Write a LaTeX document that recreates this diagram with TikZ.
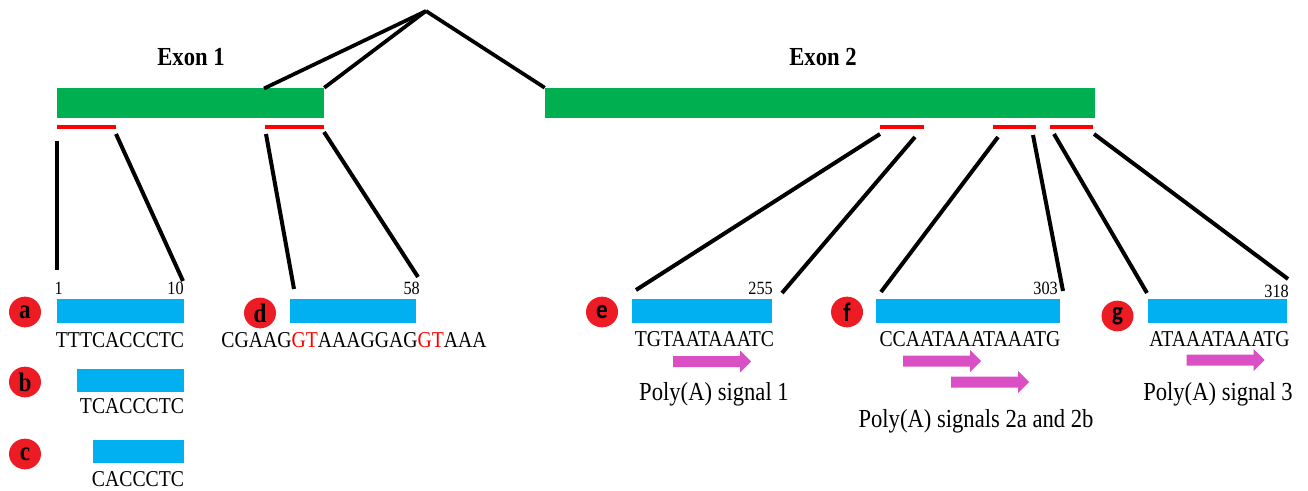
\documentclass[tikz,border=0pt]{standalone}
\usepackage{fontspec}
\setmainfont{Liberation Serif}[FakeStretch=0.87]
\newfontfamily\sansb{Carlito}[FakeStretch=0.87]
\usetikzlibrary{fit,shapes.geometric}
\definecolor{exongreen}{RGB}{0,176,80}
\definecolor{barblue}{RGB}{0,176,240}
\definecolor{barred}{RGB}{255,0,0}
\definecolor{circred}{RGB}{237,28,36}
\definecolor{polymag}{RGB}{218,80,196}
\tikzset{
  exonbar/.style={fill=exongreen, inner sep=0pt, draw=none},
  redbar/.style={fill=barred, inner sep=0pt, draw=none},
  bluebar/.style={fill=barblue, inner sep=0pt, draw=none},
  link/.style={line width=3pt, black},
  intron/.style={line width=2.8pt, black},
  seq/.style={font=\fontsize{17}{20}\selectfont, anchor=base, inner sep=0pt},
  num/.style={font=\fontsize{14}{16}\selectfont, anchor=base east, inner sep=0pt},
  polytxt/.style={font=\fontsize{19.5}{22}\selectfont, anchor=base, inner sep=0pt},
  exontxt/.style={font=\bfseries\fontsize{19.5}{22}\selectfont, inner sep=0pt},
  tag/.style={ellipse, fill=circred, inner sep=0pt, minimum width=24pt, minimum height=23pt, font=\bfseries\fontsize{20}{22}\selectfont},
  sanstag/.style={tag, font=\sansb\bfseries\fontsize{20}{22}\selectfont},
  sigarrow/.pic={\fill[polymag] (-39,-5.5) -- (28,-5.5) -- (28,-11) -- (39,0) -- (28,11) -- (28,5.5) -- (-39,5.5) -- cycle;},
}
\begin{document}
\begin{tikzpicture}[x=0.75pt, y=-0.75pt]
\useasboundingbox (0,0) rectangle (1308,491);

% exons
\node[exonbar, fit={(57,88)(324,118)}] (ex1) {};
\node[exonbar, fit={(545,88)(1095,118)}] (ex2) {};
\node[exontxt] (ex1lbl) at (191,57) {Exon 1};
\node[exontxt] (ex2lbl) at (823,57) {Exon 2};

% intron
\coordinate (apex) at (426,11);
\draw[intron] (apex) -- (264,88.5);
\draw[intron] (apex) -- (ex1.north east);
\draw[intron] (apex) -- (ex2.north west);

% red bars
\node[redbar, fit={(57,125)(116,129)}] (ra) {};
\node[redbar, fit={(265,125)(324,129)}] (rd) {};
\node[redbar, fit={(880,125)(924,129)}] (re) {};
\node[redbar, fit={(993,125)(1036,129)}] (rf) {};
\node[redbar, fit={(1050,125)(1093,129)}] (rg) {};

% blue bars
\node[bluebar, fit={(57,299)(184,323)}] (ba) {};
\node[bluebar, fit={(77,369)(184,392)}] (bb) {};
\node[bluebar, fit={(93,440)(184,463)}] (bc) {};
\node[bluebar, fit={(290,299)(416,323)}] (bd) {};
\node[bluebar, fit={(632,299)(772,323)}] (be) {};
\node[bluebar, fit={(876,299)(1060,323)}] (bf) {};
\node[bluebar, fit={(1148,299)(1287,323)}] (bg) {};

% connector end points
\coordinate (a1t) at (57,141);   \coordinate (a1b) at (57,270);
\coordinate (a2t) at (116,134);  \coordinate (a2b) at (183,281);
\coordinate (d1t) at (266,134);  \coordinate (d1b) at (294,289);
\coordinate (d2t) at (324,132);  \coordinate (d2b) at (418,277);
\coordinate (e1t) at (880,134);  \coordinate (e1b) at (636,290);
\coordinate (e2t) at (915,137);  \coordinate (e2b) at (782,293);
\coordinate (f1t) at (998,137);  \coordinate (f1b) at (881,292);
\coordinate (f2t) at (1033,135); \coordinate (f2b) at (1063,291);
\coordinate (g1t) at (1054,134); \coordinate (g1b) at (1147,293);
\coordinate (g2t) at (1094,134); \coordinate (g2b) at (1288,279);
\draw[link] (a1t) -- (a1b);
\draw[link] (a2t) -- (a2b);
\draw[link] (d1t) -- (d1b);
\draw[link] (d2t) -- (d2b);
\draw[link] (e1t) -- (e1b);
\draw[link] (e2t) -- (e2b);
\draw[link] (f1t) -- (f1b);
\draw[link] (f2t) -- (f2b);
\draw[link] (g1t) -- (g1b);
\draw[link] (g2t) -- (g2b);

% numbers
\node[num] (n1) at (63,294.5) {1};
\node[num] (n10) at (184,294.5) {10};
\node[num] (n58) at (420,295) {58};
\node[num] (n255) at (773,294.5) {255};
\node[num] (n303) at (1058,294.5) {303};
\node[num] (n318) at (1289,297) {318};

% sequences
\node[seq] (sa) at (120,347) {TTTCACCCTC};
\node[seq] (sb) at (132,413) {TCACCCTC};
\node[seq] (sc) at (138,486) {CACCCTC};
\node[seq] (sd) at (354,347) {CGAAG\textcolor{barred}{GT}AAAGGAG\textcolor{barred}{GT}AAA};
\node[seq] (se) at (704.5,346) {TGTAATAAATC};
\node[seq] (sf) at (970,346) {CCAATAAATAAATG};
\node[seq] (sg) at (1219.5,346) {ATAAATAAATG};

% tags
\node[tag] (ta) at (25,312) {a};
\node[tag] (tb) at (25,382) {b};
\node[tag] (tc) at (25,454) {c};
\node[tag] (td) at (260,313) {d};
\node[sanstag] (te) at (602,312) {e};
\node[sanstag] (tf) at (847,312) {f};
\node[sanstag] (tg) at (1117.5,316) {g};

% poly(A) arrows
\pic (p1) at (712,361.5) {sigarrow};
\pic (p2a) at (942,361) {sigarrow};
\pic (p2b) at (990,382) {sigarrow};
\pic (p3) at (1225.5,360) {sigarrow};

\node[polytxt] (l1) at (714,400) {Poly(A) signal 1};
\node[polytxt] (l2) at (976,427) {Poly(A) signals 2a and 2b};
\node[polytxt] (l3) at (1218,400) {Poly(A) signal 3};
\end{tikzpicture}
\end{document}
